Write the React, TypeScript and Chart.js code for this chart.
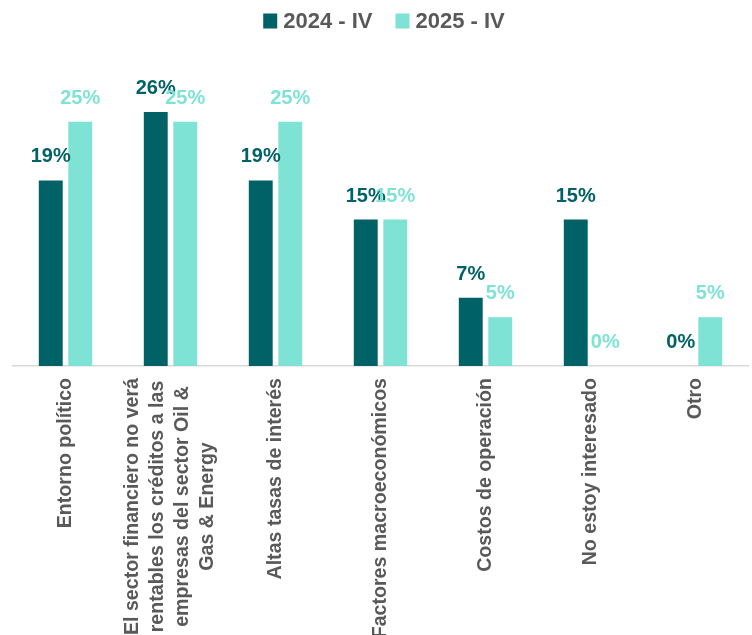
import React, { useEffect, useRef } from "react";
import { Chart, registerables } from "chart.js";

Chart.register(...registerables);

const categories: string[][] = [
  ["Entorno político"],
  ["El sector financiero no verá", "rentables los créditos a las", "empresas del sector Oil &", "Gas & Energy"],
  ["Altas tasas de interés"],
  ["Factores macroeconómicos"],
  ["Costos de operación"],
  ["No estoy interesado"],
  ["Otro"],
];
const series2024: number[] = [19, 26, 19, 15, 7, 15, 0];
const series2025: number[] = [25, 25, 25, 15, 5, 0, 5];
const seriesNames = ["2024 - IV", "2025 - IV"];
const colors = ["#006166", "#7ee2d5"];

const FONT = "'Liberation Sans', Arial, sans-serif";
const GRAY = "#595959";

const labelsPlugin = {
  id: "customLabels",
  afterDatasetsDraw(chart: any) {
    const ctx = chart.ctx;
    ctx.save();
    // data labels
    ctx.font = `bold 20px ${FONT}`;
    ctx.textAlign = "center";
    ctx.textBaseline = "alphabetic";
    chart.data.datasets.forEach((ds: any, di: number) => {
      const meta = chart.getDatasetMeta(di);
      meta.data.forEach((bar: any, i: number) => {
        ctx.fillStyle = colors[di];
        ctx.fillText(`${ds.data[i]}%`, bar.x, bar.y - 18);
      });
    });
    // x labels
    const xs = chart.scales.x;
    ctx.font = `bold 19.6px ${FONT}`;
    ctx.fillStyle = GRAY;
    ctx.textAlign = "center";
    ctx.textBaseline = "middle";
    const lineH = 25;
    categories.forEach((lines, i) => {
      const x = xs.getPixelForTick(i);
      const maxW = Math.max(...lines.map((l) => ctx.measureText(l).width));
      const cy = chart.chartArea.bottom + 12 + maxW / 2;
      lines.forEach((l, j) => {
        const lx = x + (j - (lines.length - 1) / 2) * lineH;
        ctx.save();
        ctx.translate(lx, cy);
        ctx.rotate(-Math.PI / 2);
        ctx.fillText(l, 0, 0);
        ctx.restore();
      });
    });
    // legend
    ctx.font = `bold 22px ${FONT}`;
    ctx.textAlign = "left";
    ctx.textBaseline = "middle";
    const box = 14;
    const gapText = 6;
    const gapItem = 23;
    const widths = seriesNames.map((n) => ctx.measureText(n).width);
    const total = widths.reduce((a, w) => a + box + gapText + w, 0) + gapItem * (seriesNames.length - 1);
    let lx = 384 - total / 2;
    const ly = 20.5;
    seriesNames.forEach((n, k) => {
      ctx.fillStyle = colors[k];
      ctx.fillRect(lx, ly - box / 2, box, box + 1);
      ctx.fillStyle = GRAY;
      ctx.fillText(n, lx + box + gapText, ly + 1);
      lx += box + gapText + widths[k] + gapItem;
    });
    ctx.restore();
  },
};

export default function App() {
  const ref = useRef<HTMLCanvasElement | null>(null);
  useEffect(() => {
    if (!ref.current) return;
    const chart = new Chart(ref.current, {
      type: "bar",
      data: {
        labels: categories.map((c) => c.join(" ")),
        datasets: [
          { label: seriesNames[0], data: series2024, backgroundColor: colors[0], borderWidth: 0 },
          { label: seriesNames[1], data: series2025, backgroundColor: colors[1], borderWidth: 0 },
        ],
      },
      options: {
        animation: false,
        responsive: false,
        maintainAspectRatio: false,
        layout: { padding: { top: 73, left: 13, right: 4, bottom: 0 } },
        datasets: { bar: { categoryPercentage: 0.562, barPercentage: 0.81 } },
        plugins: { legend: { display: false }, tooltip: { enabled: false } },
        scales: {
          x: {
            grid: { display: false, drawTicks: false },
            border: { display: true, color: "#d9d9d9", width: 1.5 },
            ticks: { display: false },
            afterFit: (scale: any) => {
              scale.height = 269;
            },
          },
          y: { display: false, min: 0, max: 30 },
        },
      },
      plugins: [labelsPlugin],
    });
    return () => chart.destroy();
  }, []);
  return (
    <div style={{ position: "absolute", left: 0, top: 0, width: 752, height: 635, background: "#fff" }}>
      <canvas ref={ref} width={752} height={635} style={{ display: "block" }} />
    </div>
  );
}
